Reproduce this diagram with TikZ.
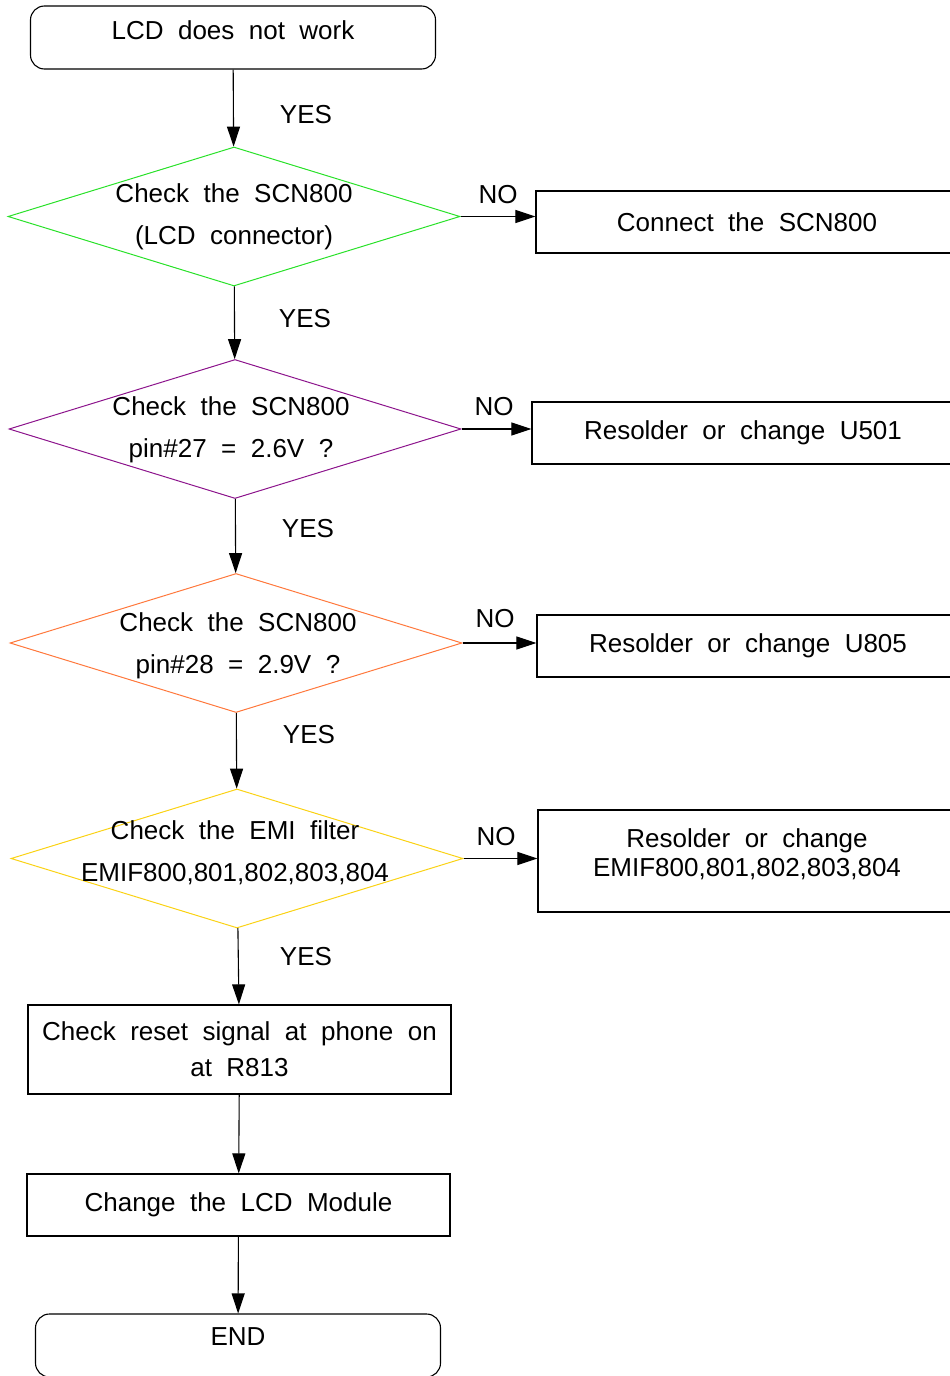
\documentclass[tikz,border=0pt]{standalone}
\usepackage{fontspec}
\setmainfont[WordSpace=2]{Liberation Sans}
\usepackage{tikz}
\usetikzlibrary{shapes.geometric, arrows.meta, positioning, calc}
\definecolor{chkgreen}{RGB}{40,225,40}
\definecolor{chkpurple}{RGB}{140,20,140}
\definecolor{chkorange}{RGB}{255,120,60}
\definecolor{chkyellow}{RGB}{250,210,20}
\tikzset{
  termbox/.style={rectangle, rounded corners=14pt, draw=black, line width=1.1pt, minimum width=405pt, minimum height=63pt, inner sep=0pt},
  chkbox/.style={diamond, line width=1pt, minimum width=452pt, minimum height=139pt, inner sep=0pt},
  chktxt/.style={align=center, inner sep=0pt, font=\fontsize{26}{42}\selectfont},
  actbox/.style={rectangle, draw=black, line width=1.2pt, minimum width=422pt, minimum height=62pt, inner sep=0pt, align=center},
  lbl/.style={inner sep=0pt},
  arrow/.style={line width=1.1pt, -{Triangle[length=20pt,width=13pt]}, color=black}
}

\begin{document}
\begin{tikzpicture}[x=1pt, y=-1pt, font=\fontsize{26}{31}\selectfont]
  \useasboundingbox (0,0) rectangle (950,1376);

  \node (start) [termbox] at (233,37.5) {};
  \node (startlbl) [lbl] at (233,30) {LCD does not work};

  % checks
  \node (d1) [chkbox, draw=chkgreen] at (234,216.5) {};
  \node (d1txt) [chktxt] at (234,216.5) {Check the SCN800\\(LCD connector)};
  \node (d2) [chkbox, draw=chkpurple] at (235,429) {};
  \node (d2txt) [chktxt] at (231,430) {Check the SCN800\\pin\#27 = 2.6V ?};
  \node (d3) [chkbox, draw=chkorange] at (236,643) {};
  \node (d3txt) [chktxt] at (238,645.5) {Check the SCN800\\pin\#28 = 2.9V ?};
  \node (d4) [chkbox, draw=chkyellow] at (237,858.5) {};
  \node (d4txt) [chktxt] at (235,852.5) {Check the EMI filter\\EMIF800,801,802,803,804};

  % actions
  \node (fix1) [actbox] at (747,222) {Connect the SCN800};
  \node (fix2) [actbox] at (743,433) {Resolder or change U501};
  \node (fix3) [actbox] at (748,646) {Resolder or change U805};
  \node (fix4) [actbox, minimum height=102pt] at (749,861) {};
  \node (fix4txt) [lbl, align=center, font=\fontsize{26}{29}\selectfont] at (747,854) {Resolder or change\\EMIF800,801,802,803,804};

  \node (reset) [actbox, minimum width=423pt, minimum height=89pt, font=\fontsize{26}{36}\selectfont] at (239.5,1049.5) {Check reset signal at phone on\\at R813};
  \node (lcdmod) [actbox, minimum width=423pt] at (238.5,1205) {Change the LCD Module};
  \node (finish) [termbox] at (238,1345.5) {};
  \node (finishlbl) [lbl] at (238,1337) {END};

  \draw [arrow] (start) -- (d1);
  \draw [arrow] (d1) -- (d2);
  \draw [arrow] (d2) -- (d3);
  \draw [arrow] (d3) -- (d4);
  \draw [arrow] (d4) -- (reset);
  \draw [arrow] (reset) -- (lcdmod);
  \draw [arrow] (lcdmod) -- (finish);

  \draw [arrow] (d1.east) -- (d1.east -| fix1.west);
  \draw [arrow] (d2.east) -- (d2.east -| fix2.west);
  \draw [arrow] (d3.east) -- (d3.east -| fix3.west);
  \draw [arrow] (d4.east) -- (d4.east -| fix4.west);

  \node (yes1) [lbl] at (306,115) {YES};
  \node (yes2) [lbl] at (305,319) {YES};
  \node (yes3) [lbl] at (308,529) {YES};
  \node (yes4) [lbl] at (309,735) {YES};
  \node (yes5) [lbl] at (306,957) {YES};
  \node (no1) [lbl] at (498,195) {NO};
  \node (no2) [lbl] at (494,407) {NO};
  \node (no3) [lbl] at (495,619) {NO};
  \node (no4) [lbl] at (496,837) {NO};
\end{tikzpicture}
\end{document}
